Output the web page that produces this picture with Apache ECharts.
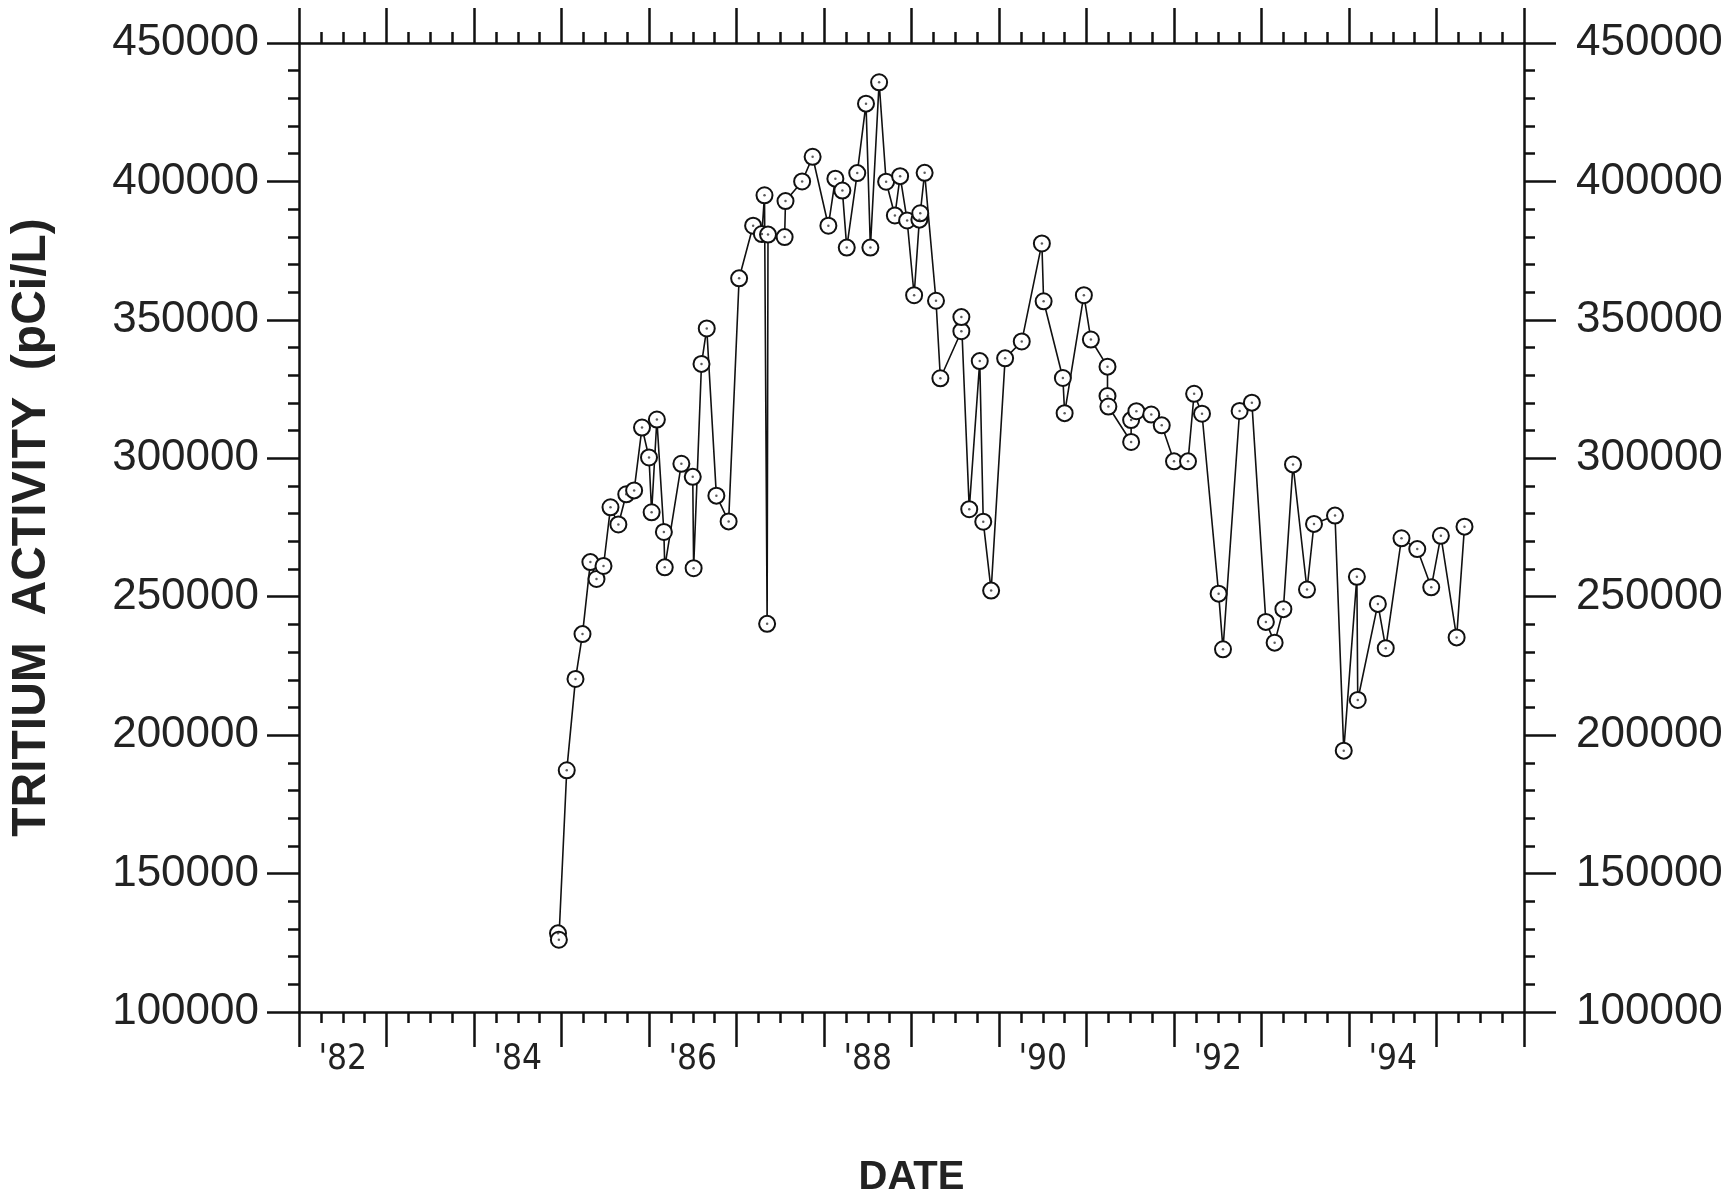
<!DOCTYPE html>
<html>
<head>
<meta charset="utf-8">
<script src="https://cdn.jsdelivr.net/npm/echarts@6/dist/echarts.min.js"></script>
<style>
html,body{margin:0;padding:0;background:#fff;}
#chart{width:1732px;height:1203px;}
</style>
</head>
<body>
<div id="chart"></div>
<script>
// ---- data ----
const sampleDates = [
  1984.96, 1984.97, 1985.06, 1985.16, 1985.24, 1985.33, 1985.40, 1985.48, 1985.56, 1985.65,
  1985.74, 1985.83, 1985.92, 1986.00, 1986.03, 1986.09, 1986.17, 1986.18, 1986.37, 1986.50,
  1986.51, 1986.60, 1986.66, 1986.77, 1986.91, 1987.03, 1987.19, 1987.29, 1987.32, 1987.35,
  1987.36, 1987.55, 1987.56, 1987.75, 1987.87, 1988.05, 1988.13, 1988.21, 1988.26, 1988.38,
  1988.48, 1988.53, 1988.63, 1988.71, 1988.81, 1988.87, 1988.95, 1989.03, 1989.09, 1989.10,
  1989.15, 1989.28, 1989.33, 1989.57, 1989.57, 1989.66, 1989.78, 1989.82, 1989.91, 1990.07,
  1990.26, 1990.49, 1990.51, 1990.73, 1990.75, 1990.97, 1991.05, 1991.24, 1991.24, 1991.25,
  1991.51, 1991.51, 1991.57, 1991.74, 1991.86, 1992.00, 1992.16, 1992.23, 1992.32, 1992.51,
  1992.56, 1992.75, 1992.89, 1993.05, 1993.15, 1993.25, 1993.36, 1993.52, 1993.60, 1993.84,
  1993.94, 1994.09, 1994.10, 1994.33, 1994.42, 1994.60, 1994.78, 1994.94, 1995.05, 1995.23,
  1995.32
];
const tritiumActivity = [
  128400, 126100, 187300, 220300, 236500, 262500, 256400, 261100, 282300, 276100,
  287000, 288400, 311100, 300300, 280500, 314000, 273400, 260600, 298000, 293300,
  260300, 334100, 346900, 286500, 277200, 365000, 384000, 381000, 395000, 240200,
  380800, 379900, 392900, 400000, 408900, 384000, 401000, 396700, 376100, 403000,
  428100, 376100, 435800, 399900, 387700, 401900, 385900, 358900, 386200, 388500,
  403100, 356900, 328900, 345900, 351000, 281600, 335100, 277100, 252200, 336100,
  342200, 377600, 356700, 329000, 316300, 358900, 342900, 333100, 322500, 318700,
  305900, 313800, 317000, 315800, 311900, 298900, 298900, 323300, 316100, 251100,
  231000, 317100, 320100, 240900, 233400, 245500, 297800, 252600, 276300, 279300,
  194400, 257200, 212700, 247400, 231400, 271100, 267200, 253400, 272000, 235300,
  275300
];
const yearCategories = ['1982','1983','1984','1985','1986','1987','1988','1989','1990','1991','1992','1993','1994','1995'];
const yearTickLabels = ["'82", "", "'84", "", "'86", "", "'88", "", "'90", "", "'92", "", "'94", ""];
const xMin = 1982, xMax = 1996, xStep = 1;
const yMin = 100000, yMax = 450000, yStep = 50000;

// ---- chart ----
const points = sampleDates.map((d, i) => [d, tritiumActivity[i]]);
const BLACK = '#111';
const numFont = "'Liberation Sans', Arial, Helvetica, sans-serif";
const narrowFont = "'Liberation Sans Narrow', 'DejaVu Sans Condensed', 'Arial Narrow', sans-serif";

function valueX(pos, extra) {
  return Object.assign({
    type: 'value', gridIndex: 0, position: pos, min: xMin, max: xMax, interval: xStep,
    axisLine: { show: true, onZero: false, lineStyle: { color: BLACK, width: 2.5 } },
    axisTick: { show: true, inside: false, length: 35, lineStyle: { color: BLACK, width: 2.5 } },
    minorTick: { show: true, splitNumber: 4, length: 11, lineStyle: { color: BLACK, width: 2.5 } },
    axisLabel: { show: false },
    splitLine: { show: false }, minorSplitLine: { show: false }
  }, extra || {});
}
function valueY(pos, margin) {
  return {
    type: 'value', gridIndex: 0, position: pos, min: yMin, max: yMax, interval: yStep,
    axisLine: { show: true, onZero: false, lineStyle: { color: BLACK, width: 2.5 } },
    axisTick: { show: true, inside: false, length: 32, lineStyle: { color: BLACK, width: 2.5 } },
    minorTick: { show: true, splitNumber: 5, length: 11, lineStyle: { color: BLACK, width: 2.5 } },
    axisLabel: {
      show: true, margin: margin, color: '#222', fontSize: 44, fontFamily: numFont,
      formatter: v => String(Math.round(v))
    },
    splitLine: { show: false }, minorSplitLine: { show: false }
  };
}

const chart = echarts.init(document.getElementById('chart'), null, { renderer: 'canvas' });
const leftY = valueY('left', 40);
leftY.name = 'TRITIUM  ACTIVITY  (pCi/L)';
leftY.nameLocation = 'middle';
leftY.nameRotate = 90;
leftY.nameGap = 243;
leftY.nameTextStyle = { color: '#222', fontSize: 48, fontWeight: 'bold', fontFamily: numFont };

chart.setOption({
  animation: false,
  backgroundColor: '#fff',
  grid: { left: 298, right: 208, top: 43, bottom: 175, containLabel: false },
  xAxis: [
    valueX('bottom', {
      name: 'DATE', nameLocation: 'middle', nameGap: 146,
      nameTextStyle: { color: '#222', fontSize: 40, fontWeight: 'bold', fontFamily: numFont }
    }),
    valueX('top'),
    {
      type: 'category', gridIndex: 0, position: 'bottom', data: yearCategories, boundaryGap: true,
      axisLine: { show: false }, axisTick: { show: false }, splitLine: { show: false },
      axisLabel: {
        show: true, interval: 0, margin: 30, color: '#222', fontSize: 35, fontFamily: narrowFont,
        formatter: (v, i) => yearTickLabels[i]
      }
    }
  ],
  yAxis: [leftY, valueY('right', 52)],
  series: [
    {
      type: 'line', xAxisIndex: 0, yAxisIndex: 0, data: points,
      symbol: 'circle', symbolSize: 16, showAllSymbol: true,
      lineStyle: { color: BLACK, width: 1.6 },
      itemStyle: { color: '#fff', borderColor: BLACK, borderWidth: 2 },
      emphasis: { disabled: true }, z: 3
    },
    {
      type: 'scatter', xAxisIndex: 0, yAxisIndex: 0, data: points,
      symbol: 'circle', symbolSize: 2.5, itemStyle: { color: '#333' },
      silent: true, z: 4
    }
  ]
});
</script>
</body>
</html>
